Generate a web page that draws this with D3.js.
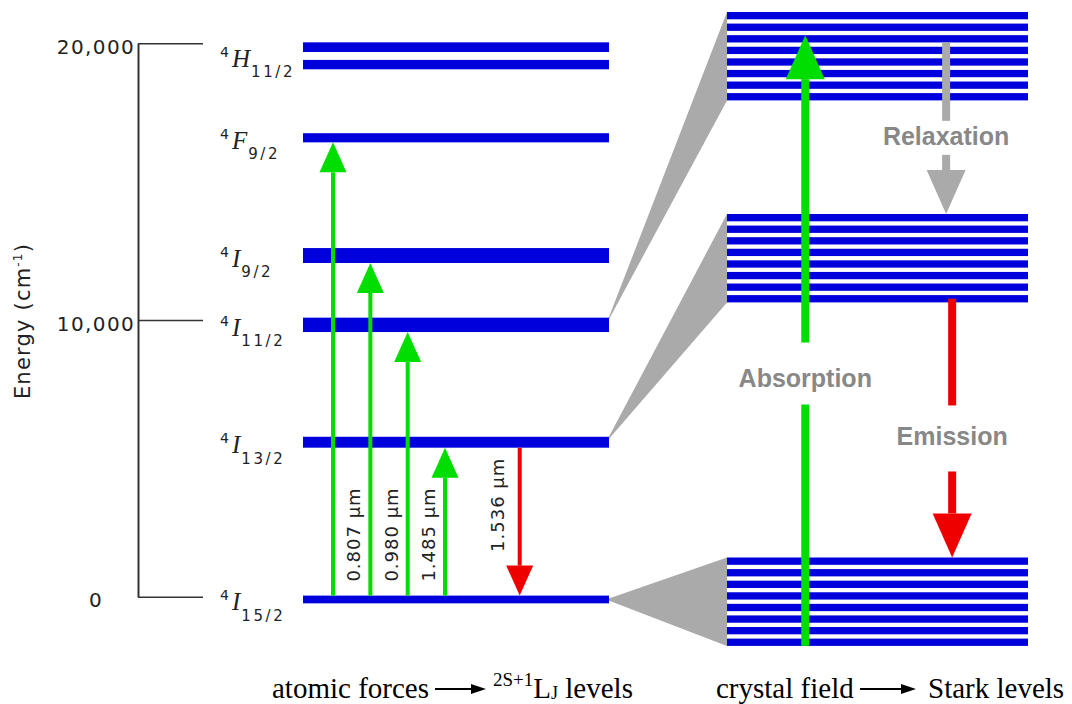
<!DOCTYPE html>
<html>
<head>
<meta charset="utf-8">
<script src="https://cdn.jsdelivr.net/npm/d3@7"></script>
<style>
  html, body { margin: 0; padding: 0; background: #fff; }
  svg { display: block; }
</style>
</head>
<body>
<svg id="chart" width="1072" height="704"></svg>
<script>
// ---- Er3+ manifolds (energies in cm^-1) ----
const levelNames = ["4I15/2", "4I13/2", "4I11/2", "4I9/2", "4F9/2", "4H11/2"];
const levelMultiplicity = ["4", "4", "4", "4", "4", "4"];
const levelLetter = ["I", "I", "I", "I", "F", "H"];
const levelJ = ["15/2", "13/2", "11/2", "9/2", "9/2", "11/2"];
// energy span [low, high] of each drawn manifold line
const levelSpans = [
  [[-240, 40]],
  [[5385, 5780]],
  [[9565, 10085]],
  [[12060, 12600]],
  [[16420, 16750]],
  [[19060, 19400], [19685, 20035]]
];
const energyTicks = [0, 10000, 20000];

// ---- optical transitions between manifolds ----
const transFrom  = ["4I15/2", "4I15/2", "4I15/2", "4I15/2", "4I13/2"];
const transTo    = ["4F9/2", "4I9/2", "4I11/2", "4I13/2", "4I15/2"];
const transLabel = ["", "0.807 \u00b5m", "0.980 \u00b5m", "1.485 \u00b5m", "1.536 \u00b5m"];

// ---- crystal-field (Stark) splitting ----
const starkLevels = ["4I11/2", "4I13/2", "4I15/2"];
const starkCount  = [8, 8, 8];

// ---- processes between Stark manifolds ----
const processNames   = ["Absorption", "Relaxation", "Emission"];
const processFrom    = ["4I15/2", "4I11/2", "4I13/2"];
const processFromSub = [null, 2, 7];     // sublevel index, null = manifold edge
const processTo      = ["4I11/2", "4I13/2", "4I15/2"];
const processToSub   = [2, null, null];

// ---- captions ----
const captionLeft  = ["atomic forces", "2S+1", "L", "J", " levels"];
const captionRight = ["crystal field", "Stark levels"];

// ================= drawing =================
const BLUE = "#0000dd", GREEN = "#00dd00", RED = "#ee0000",
      GREY = "#aaaaaa", LABEL_GREY = "#888888", INK = "#222222";
const SANS = "'DejaVu Sans', Verdana, sans-serif";

const svg = d3.select("#chart");

const y = d3.scaleLinear().domain([0, 20000]).range([596.7, 43.3]);
const levelX0 = 303, levelX1 = 609;

const levels = levelNames.map((name, i) => {
  const spans = levelSpans[i];
  const lo = d3.min(spans, s => s[0]), hi = d3.max(spans, s => s[1]);
  return { name, mult: levelMultiplicity[i], letter: levelLetter[i], j: levelJ[i],
           spans, lo, hi, mid: (lo + hi) / 2 };
});
const byName = new Map(levels.map(l => [l.name, l]));

// Stark panel: expanded schematic scale anchored on the manifold centres
const yStark = d3.scaleLinear()
  .domain(starkLevels.map(n => byName.get(n).mid).reverse())
  .range([601.7, 258.2, 56.2]);
const starkX0 = 727, starkX1 = 1028, groupHalf = 44.2;
const xStark = d3.scaleLinear().domain([0, 1]).range([starkX0, starkX1]);

const groups = starkLevels.map((name, i) => {
  const c = yStark(byName.get(name).mid);
  const top = c - groupHalf, bottom = c + groupHalf;
  const band = d3.scaleBand().domain(d3.range(starkCount[i]))
    .range([top, bottom]).paddingInner(0.37).paddingOuter(0);
  return { name, top, bottom, band, level: byName.get(name) };
});
const groupBy = new Map(groups.map(g => [g.name, g]));

// ---- energy axis (bracket style) ----
const axis = d3.axisRight(y).tickValues(energyTicks).tickSize(65).tickSizeOuter(0)
  .tickFormat(d3.format(","));
const gAxis = svg.append("g").attr("transform", "translate(138,0)").call(axis);
gAxis.select(".domain").attr("stroke", "#333").attr("stroke-width", 2);
gAxis.selectAll(".tick line").attr("stroke", "#333").attr("stroke-width", 1.6);
gAxis.selectAll(".tick text")
  .attr("x", -42).attr("dy", "0.5em").attr("text-anchor", "middle")
  .attr("fill", INK).style("font-family", SANS).style("font-size", "20px")
  .style("letter-spacing", "1.4px");

svg.append("text")
  .attr("transform", "translate(30,321) rotate(-90)")
  .attr("text-anchor", "middle").attr("fill", INK)
  .style("font-family", SANS).style("font-size", "21px").style("letter-spacing", "1.2px")
  .call(t => {
    t.append("tspan").text("Energy (cm");
    t.append("tspan").attr("dy", -8).style("font-size", "12px").text("-1");
    t.append("tspan").attr("dy", 8).text(")");
  });

// ---- wedges linking manifolds to their Stark levels ----
svg.append("g").selectAll("path").data(groups).join("path")
  .attr("d", g => d3.line()([
    [levelX1 - 3, y(g.level.mid)],
    [starkX0, g.top],
    [starkX0, g.bottom]
  ]) + "Z")
  .attr("fill", GREY);

// ---- manifold lines ----
svg.append("g").selectAll("rect")
  .data(levels.flatMap(l => l.spans))
  .join("rect")
  .attr("x", levelX0).attr("width", levelX1 - levelX0)
  .attr("y", s => y(s[1])).attr("height", s => y(s[0]) - y(s[1]))
  .attr("fill", BLUE);

// ---- manifold labels ----
const lbl = svg.append("g").selectAll("text").data(levels).join("text")
  .attr("x", 220).attr("fill", INK);
lbl.append("tspan").attr("y", l => y(l.mid) + 1)
  .style("font-family", SANS).style("font-size", "14px").text(l => l.mult);
lbl.append("tspan").attr("y", l => y(l.mid) + 11).attr("dx", 3)
  .style("font-family", "'Liberation Serif', serif").style("font-style", "italic")
  .style("font-size", "25px").text(l => l.letter);
lbl.append("tspan").attr("y", l => y(l.mid) + 21.5).attr("dx", 1)
  .style("font-family", SANS).style("font-size", "15px").style("letter-spacing", "2.6px")
  .text(l => l.j);

// ---- Stark levels ----
svg.append("g").selectAll("g").data(groups).join("g")
  .each(function (g) {
    d3.select(this).selectAll("rect").data(g.band.domain()).join("rect")
      .attr("x", starkX0).attr("width", starkX1 - starkX0)
      .attr("y", k => g.band(k)).attr("height", g.band.bandwidth())
      .attr("fill", BLUE);
  });

// ---- arrow helper ----
function arrow(parent, x, y0, y1, o) {
  const dir = Math.sign(y1 - y0);
  const base = y1 - dir * o.headL;
  const g = parent.append("g").attr("fill", o.color);
  let segs = [[y0, base]];
  if (o.gap) {
    const [a, b] = o.gap;
    segs = [[y0, dir > 0 ? a : b], [dir > 0 ? b : a, base]];
  }
  segs.forEach(([s, e]) => {
    g.append("rect").attr("x", x - o.lw / 2).attr("width", o.lw)
      .attr("y", Math.min(s, e)).attr("height", Math.abs(e - s));
  });
  g.append("path").attr("d",
    `M${x - o.headW / 2},${base}L${x + o.headW / 2},${base}L${x},${y1}Z`);
  return g;
}

// ---- transitions between manifolds ----
const xCol = d3.scaleLinear().domain([0, 5]).range([333, 519.7]);
const gTrans = svg.append("g");
transFrom.forEach((f, i) => {
  const from = byName.get(f), to = byName.get(transTo[i]);
  const up = to.mid > from.mid;
  const col = up ? i : i + 1;
  const x = xCol(col);
  const y0 = up ? y(from.hi) : y(from.lo);
  const y1 = up ? y(to.lo) : y(to.hi);
  arrow(gTrans, x, y0, y1, { color: up ? GREEN : RED, lw: 4, headW: 27, headL: 30 });
  if (transLabel[i]) {
    const tx = up ? x - 10 : x - 16;
    const ty = up ? y0 - 14 : y0 + 10;
    gTrans.append("text")
      .attr("transform", `translate(${tx},${ty}) rotate(-90)`)
      .attr("text-anchor", up ? "start" : "end").attr("fill", INK)
      .style("font-family", SANS).style("font-size", "18px").style("letter-spacing", "1px")
      .text(transLabel[i]);
  }
});

// ---- processes in the Stark panel ----
const processStyle = {
  Absorption: { color: GREEN, pos: 0.26, t: 0.446, half: 31, base: 13 },
  Relaxation: { color: GREY, pos: 0.728, t: 0.556, half: 17, base: 7 },
  Emission:   { color: RED,  pos: 0.748, t: 0.54, half: 33, base: 7 }
};
const gProc = svg.append("g");
processNames.forEach((name, i) => {
  const gf = groupBy.get(processFrom[i]), gt = groupBy.get(processTo[i]);
  const up = gt.level.mid > gf.level.mid;
  const fs = processFromSub[i], ts = processToSub[i];
  let y0;
  if (fs === null) y0 = up ? gf.bottom : gf.top;
  else if (name === "Relaxation") y0 = gf.band(fs) + gf.band.bandwidth();
  else y0 = gf.band(fs) + gf.band.bandwidth() / 2;
  const y1 = ts === null ? (up ? gt.bottom : gt.top) : gt.band(ts);
  const st = processStyle[name];
  const x = xStark(st.pos);
  const gc = y0 + (y1 - y0) * st.t;
  arrow(gProc, x, y0, y1, {
    color: st.color, lw: 8, headW: 39, headL: 44,
    gap: [gc - st.half, gc + st.half]
  });
  gProc.append("text")
    .attr("x", x).attr("y", gc + st.base).attr("text-anchor", "middle")
    .attr("fill", LABEL_GREY)
    .style("font-family", "'Liberation Sans', Arial, sans-serif")
    .style("font-weight", "bold").style("font-size", "25px")
    .text(name);
});

// ---- captions ----
const SERIF = "'Liberation Serif', 'Times New Roman', serif";
const CAP_Y = 698;
function capArrow(x0, x1, yy) {
  svg.append("line").attr("x1", x0).attr("x2", x1 - 10).attr("y1", yy).attr("y2", yy)
    .attr("stroke", "#000").attr("stroke-width", 2);
  svg.append("path").attr("d", `M${x1 - 15},${yy - 5}L${x1},${yy}L${x1 - 15},${yy + 5}Z`)
    .attr("fill", "#000");
}
svg.append("text").attr("x", 272).attr("y", CAP_Y)
  .style("font-family", SERIF).style("font-size", "29px").attr("fill", "#000")
  .text(captionLeft[0]);
capArrow(435, 486, CAP_Y - 9);
svg.append("text").attr("x", 493).attr("y", CAP_Y)
  .style("font-family", SERIF).style("font-size", "29px").attr("fill", "#000")
  .call(t => {
    t.append("tspan").attr("y", CAP_Y - 12).style("font-size", "19px").text(captionLeft[1]);
    t.append("tspan").attr("y", CAP_Y).text(captionLeft[2]);
    t.append("tspan").attr("y", CAP_Y + 1).style("font-size", "18px").text(captionLeft[3]);
    t.append("tspan").attr("y", CAP_Y).text(captionLeft[4]);
  });
svg.append("text").attr("x", 716).attr("y", CAP_Y)
  .style("font-family", SERIF).style("font-size", "29px").attr("fill", "#000")
  .text(captionRight[0]);
capArrow(860, 916, CAP_Y - 9);
svg.append("text").attr("x", 928).attr("y", CAP_Y)
  .style("font-family", SERIF).style("font-size", "29px").attr("fill", "#000")
  .text(captionRight[1]);
</script>
</body>
</html>
